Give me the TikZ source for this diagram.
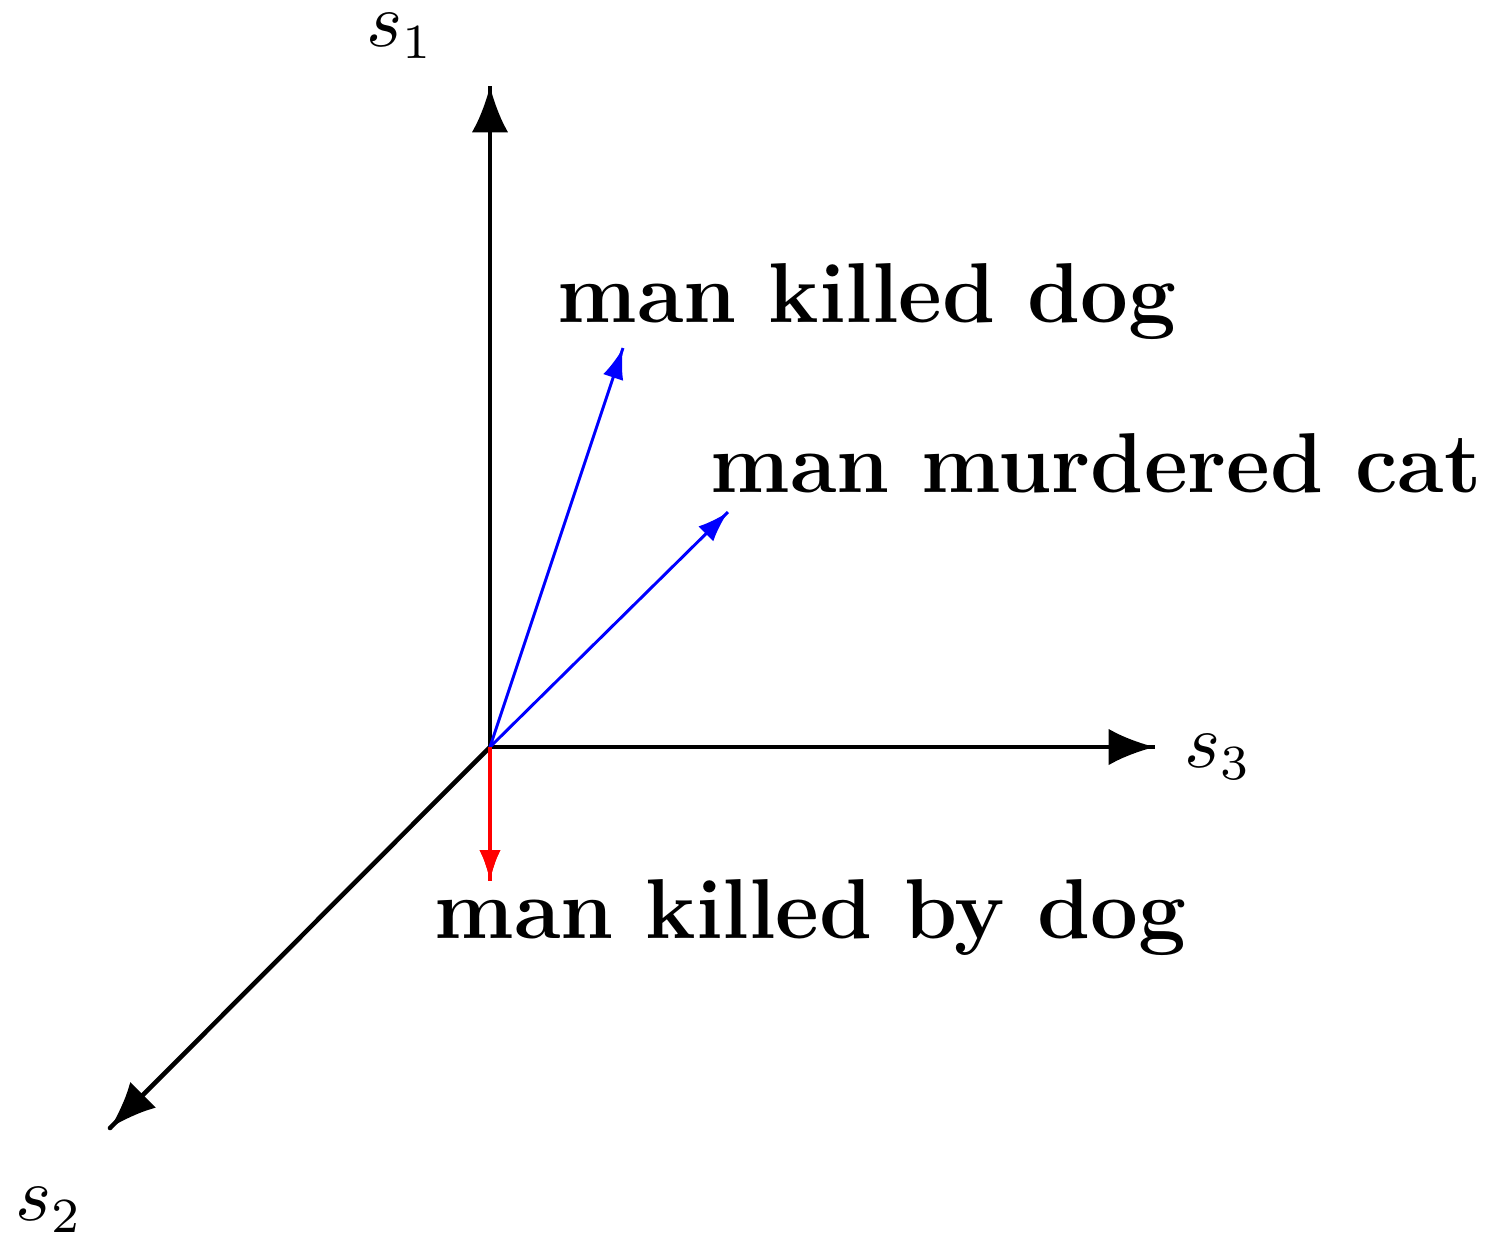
\documentclass[tikz,border=0pt]{standalone}
\usetikzlibrary{arrows.meta,decorations.markings}
\tikzset{
	tipend/.style={postaction={decorate},decoration={markings,mark=at position 1 with {\arrow{#1}}}},
	axisline/.style={line width=0.65pt, tipend={Latex[length=6.6pt,width=5.2pt]}},
	vecline/.style={line width=0.42pt, tipend={Latex[length=4.4pt,width=3pt]}},
	axislabel/.style={font=\fontsize{10.7}{13}\selectfont},
	sentence/.style={inner sep=0pt, anchor=base west, font=\fontsize{12.1}{14.5}\selectfont\bfseries}
}
\begin{document}
\begin{tikzpicture}[x=0.005cm, y=-0.005cm]
	\useasboundingbox (0,0) rectangle (1491,1233);
	\coordinate (O) at (490,747);
	\coordinate (t1) at (490,86);
	\coordinate (t2) at (110,1128);
	\coordinate (t3) at (1155,747);
	\coordinate (kd) at (623,348);
	\coordinate (mc) at (728,512);
	\coordinate (kbd) at (490,881);
	\draw [axisline] (O) -- (t1);
	\draw [axisline, line cap=round] (O) -- (t2);
	\draw [axisline] (O) -- (t3);
	\draw [vecline, blue] (O) -- (kd);
	\draw [vecline, blue] (O) -- (mc);
	\draw [vecline, red, line width=0.58pt, tipend={Latex[length=4.4pt,width=3.4pt]}] (O) -- (kbd);
	\node [axislabel] (s1) at (400,36) {$s_1$};
	\node [axislabel] (s2) at (49,1210) {$s_2$};
	\node [axislabel] (s3) at (1218,757) {$s_3$};
	\node [sentence] (l1) at (556,322) {man killed dog};
	\node [sentence] (l2) at (709,492) {man murdered cat};
	\node [sentence] (l3) at (433,938) {man killed by dog};
\end{tikzpicture}
\end{document}
